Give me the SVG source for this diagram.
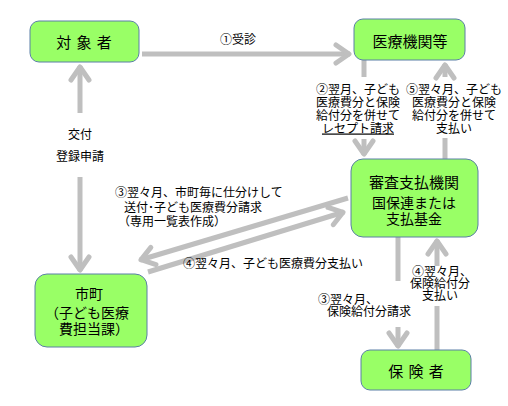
<svg xmlns="http://www.w3.org/2000/svg" width="508" height="406" viewBox="0 0 508 406">
<style>
.node rect{fill:#99ff66;stroke:#5b7fa6;stroke-width:1}
text{font-family:"Noto Sans CJK JP","Noto Sans",sans-serif;fill:#000}
.t{font-size:15px;text-anchor:middle}
.s{font-size:14px}
.l{font-size:12px}
.m{text-anchor:middle}
.c line{stroke:#bfbfbf;stroke-width:5;fill:none}
</style>
<defs>
<marker id="ah" markerUnits="userSpaceOnUse" markerWidth="30" markerHeight="30" viewBox="-20 -15 30 30" refX="0" refY="0" orient="auto">
<path d="M-14,-9 L-1,0 L-14,9" fill="none" stroke="#bfbfbf" stroke-width="5" stroke-linecap="round" stroke-linejoin="round"/>
</marker>
</defs>
<rect width="508" height="406" fill="#fff"/>
<g id="connectors" class="c">
<line x1="142" y1="54" x2="350" y2="54" marker-end="url(#ah)"/>
<line x1="80" y1="113" x2="80" y2="66" marker-end="url(#ah)"/>
<line x1="80" y1="177" x2="80" y2="271" marker-end="url(#ah)"/>
<line x1="364" y1="60" x2="364" y2="77"/>
<line x1="364" y1="139" x2="364" y2="155" marker-end="url(#ah)"/>
<line x1="445" y1="159" x2="445" y2="138"/>
<line x1="445" y1="77" x2="445" y2="64" marker-end="url(#ah)"/>
<line x1="348" y1="198" x2="140" y2="260" marker-end="url(#ah)"/>
<line x1="148" y1="272" x2="344" y2="212" marker-end="url(#ah)"/>
<line x1="398" y1="237" x2="398" y2="281"/>
<line x1="398" y1="327" x2="398" y2="347" marker-end="url(#ah)"/>
<line x1="437" y1="350" x2="437" y2="306"/>
<line x1="437" y1="266" x2="437" y2="240" marker-end="url(#ah)"/>
</g>
<g id="labels" class="l">
<text x="238" y="44" class="m">①受診</text>
<text x="80" y="138.5" class="m">交付</text>
<text x="80" y="161" class="m">登録申請</text>
<text class="m"><tspan x="358" y="93.5">②翌月、子ども</tspan><tspan x="358" y="106.5">医療費分と保険</tspan><tspan x="358" y="119.5">給付分を併せて</tspan><tspan x="358" y="132.5" text-decoration="underline">レセプト請求</tspan></text>
<text class="m"><tspan x="454" y="93.5">⑤翌々月、子ども</tspan><tspan x="454" y="106.5">医療費分と保険</tspan><tspan x="454" y="119.5">給付分を併せて</tspan><tspan x="454" y="132.5">支払い</tspan></text>
<text><tspan x="115" y="197">③翌々月、市町毎に仕分けして</tspan><tspan x="124" y="211.5">送付･子ども医療費分請求</tspan><tspan x="118" y="225.5">（専用一覧表作成）</tspan></text>
<text x="183" y="268">④翌々月、子ども医療費分支払い</text>
<text><tspan x="318" y="304">③翌々月、</tspan><tspan x="327" y="316">保険給付分請求</tspan></text>
<text class="m"><tspan x="442" y="276">④翌々月、</tspan><tspan x="440" y="288">保険給付分</tspan><tspan x="440" y="300">支払い</tspan></text>
</g>
<g id="n-taishosha" class="node">
<rect x="30" y="21" width="109" height="41" rx="9"/>
<text x="84.5" y="47.5" class="t" letter-spacing="1">対 象 者</text>
</g>
<g id="n-iryokikan" class="node">
<rect x="354" y="19" width="111" height="41" rx="9"/>
<text x="410" y="47" class="t">医療機関等</text>
</g>
<g id="n-shinsa" class="node">
<rect x="351" y="159" width="127" height="78" rx="12"/>
<text x="414" y="188" class="t" font-size="16px">審査支払機関</text>
<text class="s m"><tspan x="414" y="208">国保連または</tspan><tspan x="414" y="223.5">支払基金</tspan></text>
</g>
<g id="n-shicho" class="node">
<rect x="35" y="274" width="112" height="73" rx="12"/>
<text class="s"><tspan x="89" y="298.5" text-anchor="middle">市町</tspan><tspan x="45" y="317.5" text-anchor="start">（子ども医療</tspan><tspan x="59" y="333.5" text-anchor="start">費担当課）</tspan></text>
</g>
<g id="n-hokensha" class="node">
<rect x="361" y="350" width="110" height="40" rx="9"/>
<text x="416.5" y="376.5" class="t" letter-spacing="1">保 険 者</text>
</g>
</svg>
